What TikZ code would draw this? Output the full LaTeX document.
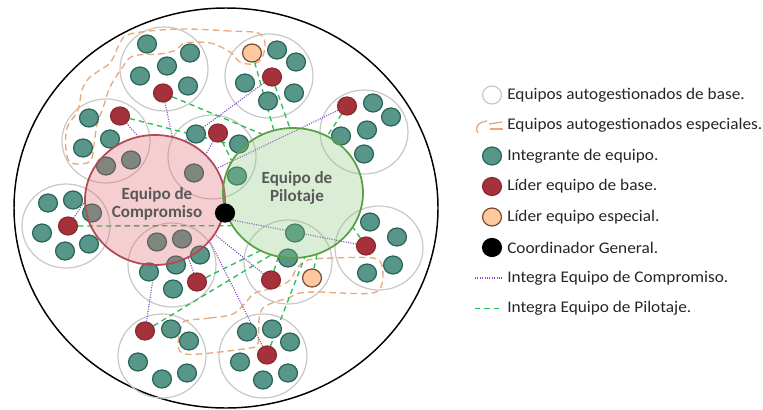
\documentclass[tikz,border=0pt]{standalone}
\usepackage{fontspec}
\setmainfont{Carlito}
\usetikzlibrary{shapes.geometric}

\definecolor{tealfill}{RGB}{88,150,138}
\definecolor{tealdark}{RGB}{40,100,88}
\definecolor{redfill}{RGB}{165,50,58}
\definecolor{reddark}{RGB}{140,40,48}
\definecolor{orangefill}{RGB}{255,201,160}
\definecolor{orangedark}{RGB}{120,75,45}
\definecolor{teamgray}{RGB}{200,200,200}
\definecolor{pinkfill}{RGB}{221,96,102}
\definecolor{pinkdraw}{RGB}{176,74,85}
\definecolor{greenfill}{RGB}{134,201,119}
\definecolor{greendraw}{RGB}{90,158,69}
\definecolor{specorange}{RGB}{232,170,125}
\definecolor{pilotgreen}{RGB}{40,190,90}
\definecolor{comppurple}{RGB}{135,75,205}
\definecolor{titlegray}{RGB}{89,89,89}
\definecolor{legendtext}{RGB}{38,38,38}

\pgfdeclarelayer{back}
\pgfdeclarelayer{lines}
\pgfdeclarelayer{dots}
\pgfsetlayers{back,lines,dots,main}

\newcommand{\legwide}[1]{\scalebox{1.06}[1]{#1}}

\tikzset{
  team/.style={ellipse, draw=teamgray, line width=0.9pt, minimum width=66pt, minimum height=63pt, inner sep=0pt},
  member/.style={ellipse, draw=tealdark, fill=tealfill, line width=0.9pt, minimum width=14.2pt, minimum height=13.5pt, inner sep=0pt},
  leader/.style={member, draw=reddark, fill=redfill},
  speclead/.style={member, draw=orangedark, fill=orangefill},
  coordgen/.style={member, draw=black, fill=black},
  bigteam/.style={ellipse, line width=1.3pt, minimum width=105pt, minimum height=97.5pt, inner sep=0pt, fill opacity=0.3},
  title/.style={font=\fontsize{12.8pt}{13.5pt}\selectfont\bfseries, text=titlegray, align=center},
  specteam/.style={draw=specorange, line width=1pt, dash pattern=on 5pt off 3pt},
  pilotline/.style={draw=pilotgreen, line width=1pt, dash pattern=on 4pt off 3pt},
  compline/.style={draw=comppurple, line width=0.85pt, dash pattern=on 0.8pt off 1pt},
  legtext/.style={anchor=west, font=\fontsize{12.2pt}{14pt}\selectfont, text=legendtext, inner sep=0pt},
}

\begin{document}
\begin{tikzpicture}[x=0.75pt, y=-0.75pt]
  \useasboundingbox (0,0) rectangle (763,410);

  % equipos de compromiso y de pilotaje
  \node[bigteam, draw=pinkdraw, fill=pinkfill] (compromiso) at (155,200) {};
  \node[bigteam, draw=greendraw, fill=greenfill] (pilotaje) at (293,193) {};

  \begin{pgfonlayer}{back}
    \fill[white] (0,0) rectangle (763,410);
    \draw[line width=1.1pt] (226,208) ellipse [x radius=212, y radius=200];
    % equipos autogestionados de base
    \foreach \n/\x/\y in {b1/164/69, b2/269/76, b3/364/132, b4/106/141, b5/212/157,
      b6/66/226, b7/172/265, b8/288/262, b9/379/248, b10/162/356, b11/263/356}
      \node[team] (\n) at (\x,\y) {};
    % equipos especiales
    \draw[specteam] plot[smooth cycle, tension=0.55] coordinates {(258,33) (230,31) (178,29)
      (130,34) (119,45) (110,63) (90,77) (82,90) (78,110) (67,128) (66,150) (70,162) (82,164)
      (91,160) (94,145) (97,125) (104,105) (110,87) (122,68) (133,56) (160,54) (176,50)
      (185,43) (210,43) (230,52) (240,62) (253,64) (262,58) (265,43)};
    \draw[specteam] plot[smooth cycle, tension=0.55] coordinates {(185,321) (210,318)
      (233,314) (246,302) (255,293) (277,287) (290,280) (297,268) (308,260) (333,258)
      (373,258) (382,266) (382,284) (373,293) (340,293) (320,292) (300,293) (288,298)
      (272,303) (262,309) (259,320) (258,343) (250,348) (200,354) (182,353) (178,343)
      (181,328)};
  \end{pgfonlayer}

  \begin{pgfonlayer}{dots}
    % integrantes
    \foreach \n/\x/\y in {
      m1a/147/44, m1b/190/53, m1c/167/66, m1d/140/76, m1e/188/86,
      m2a/277/50, m2b/296/62, m2c/245/83, m2d/294/93, m2e/268/101,
      m3a/373/103, m3b/391/117, m3c/367/130, m3d/341/136, m3e/364/154,
      m4a/89/118, m4b/83/148, m4c/110/139, m4d/106/166, m4e/131/160,
      m5a/196/134, m5b/239/144, m5c/194/173, m5d/237/176,
      m6a/48/203, m6b/73/200, m6c/92/213, m6d/42/233, m6e/65/251, m6f/89/244,
      m7a/157/242, m7b/182/239, m7c/200/255, m7d/176/265, m7e/149/272, m7f/173/289,
      m8a/295/233, m8b/288/258,
      m9a/370/222, m9b/397/237, m9c/393/265, m9d/367/273,
      m10a/171/329, m10b/189/341, m10c/138/362, m10d/162/379, m10e/187/373,
      m11a/247/332, m11b/272/329, m11c/290/342, m11d/240/362, m11e/263/380, m11f/288/373}
      \node[member] (\n) at (\x,\y) {};
    % lideres
    \foreach \n/\x/\y in {l1/163/93, l2/272/77, l3/347/106, l4/120/116, l5/218/133,
      l6/68/226, l7/197/282, l8/271/280, l9/366/246, l10/145/331, l11/267/355}
      \node[leader] (\n) at (\x,\y) {};
    \node[speclead] (e2) at (252,53) {};
    \node[speclead] (e8) at (312,278) {};
  \end{pgfonlayer}

  \begin{pgfonlayer}{lines}
    \foreach \ld/\ang in {l1/75, l2/63, l3/27, l4/105, l5/42, l6/182, l7/300,
      l8/330, l9/345, l10/270, l11/323}
      \draw[compline] (\ld) -- (compromiso.\ang);
    \foreach \ld/\ang in {l1/118, l2/93, e2/107, l3/59, l4/138, l5/152, l6/208,
      l7/240, l10/250, l8/257, l11/280, e8/291, l9/330}
      \draw[pilotline] (\ld) -- (pilotaje.\ang);
  \end{pgfonlayer}

  \node[title] (comptitle) at (157,204) {Equipo de\\Compromiso};
  \node[title] (pilottitle) at (297,188) {Equipo de\\Pilotaje};
  \node[coordgen] (coordinador) at (225,213) {};

  % leyenda
  \node[team, minimum width=14.2pt, minimum height=13.5pt, fill=white] (legbase) at (492,95) {};
  \draw[specteam, dash pattern=] (487,121) .. controls (478,122) and (474,128) .. (478,133);
  \draw[specteam, dash pattern=] (489,124) -- (502,122);
  \draw[specteam, dash pattern=] (490,129) -- (503,129);
  \node[member] (legmember) at (492,156) {};
  \node[leader] (legleader) at (492,186.5) {};
  \node[speclead] (legspec) at (492,217) {};
  \node[coordgen] (legcoord) at (492,247.5) {};
  \coordinate (lc1) at (475,278);
  \coordinate (lc2) at (502,278);
  \draw[compline] (lc1) -- (lc2);
  \coordinate (lp1) at (475,308.5);
  \coordinate (lp2) at (502,308.5);
  \draw[pilotline] (lp1) -- (lp2);

  \node[legtext] (txbase) at (507,95) {\legwide{Equipos autogestionados de base.}};
  \node[legtext] (txspec) at (507,125.5) {\legwide{Equipos autogestionados especiales.}};
  \node[legtext] (txmember) at (507,156) {\legwide{Integrante de equipo.}};
  \node[legtext] (txleader) at (507,186.5) {\legwide{Líder equipo de base.}};
  \node[legtext] (txlspec) at (507,217) {\legwide{Líder equipo especial.}};
  \node[legtext] (txcoord) at (507,247.5) {\legwide{Coordinador General.}};
  \node[legtext] (txcomp) at (507,278) {\legwide{Integra Equipo de Compromiso.}};
  \node[legtext] (txpilot) at (507,308.5) {\legwide{Integra Equipo de Pilotaje.}};
\end{tikzpicture}
\end{document}
